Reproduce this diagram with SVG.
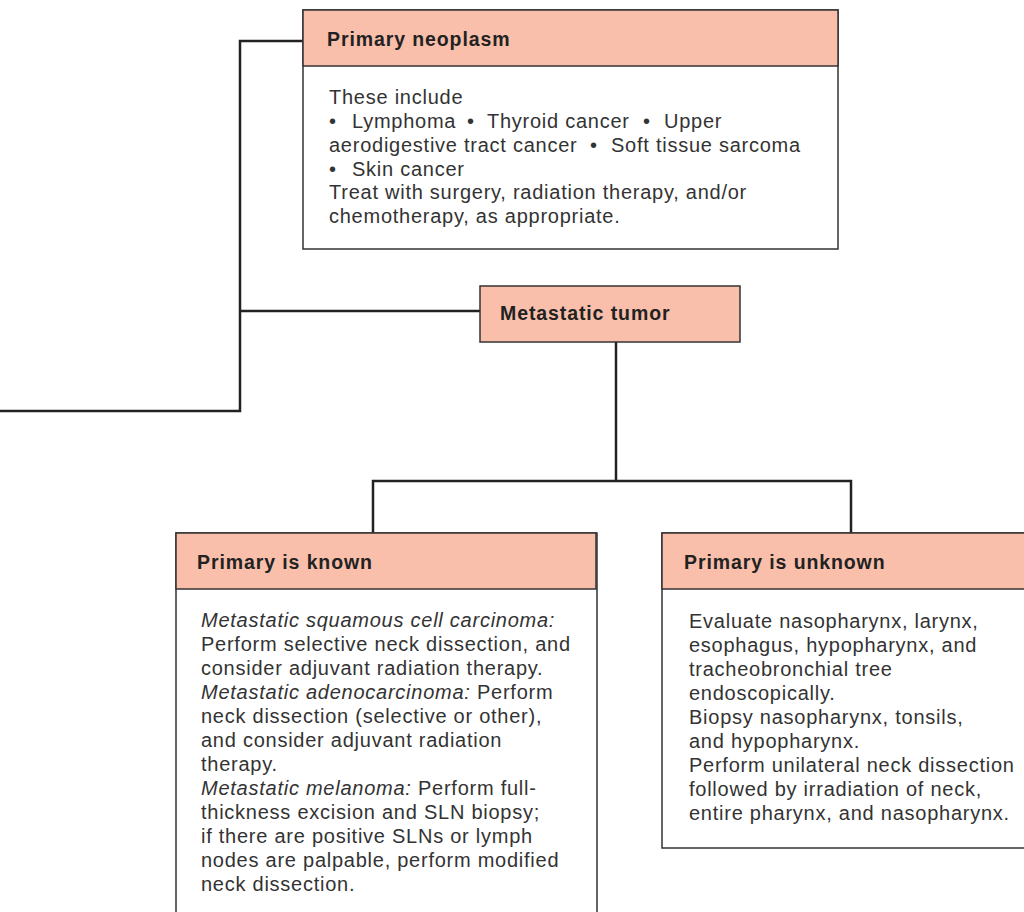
<svg xmlns="http://www.w3.org/2000/svg" width="1024" height="912" viewBox="0 0 1024 912">
  <style>
    .hdr { fill: #f9bfab; stroke: #333; stroke-width: 1.5; }
    .body { fill: #fff; stroke: #333; stroke-width: 1.5; }
    .title { font-family: "Liberation Sans", Arial, sans-serif; font-weight: bold; font-size: 19.5px; letter-spacing: 0.9px; fill: #222; }
    .txt { font-family: "Liberation Sans", Arial, sans-serif; font-size: 20px; letter-spacing: 0.75px; fill: #333; }
    .it { font-style: italic; }
    .wire { fill: none; stroke: #222; stroke-width: 2.5; }
  </style>
  <rect width="1024" height="912" fill="#fff"/>

  <!-- connectors -->
  <g id="connectors">
    <polyline class="wire" points="0,411 240,411 240,41 303,41"/>
    <line class="wire" x1="240" y1="311" x2="480" y2="311"/>
    <line class="wire" x1="616" y1="342" x2="616" y2="481"/>
    <polyline class="wire" points="373,533 373,481 851,481 851,533"/>
  </g>

  <!-- primary neoplasm -->
  <g id="primary-neoplasm">
    <rect class="body" x="303" y="10" width="535" height="239"/>
    <rect class="hdr" x="303" y="10" width="535" height="56"/>
    <text class="title" x="327" y="46">Primary neoplasm</text>
    <text class="txt">
      <tspan x="329" y="104">These include</tspan>
      <tspan x="329" y="128">•</tspan><tspan x="352" y="128">Lymphoma</tspan><tspan x="467" y="128">•</tspan><tspan x="487" y="128">Thyroid cancer</tspan><tspan x="643" y="128">•</tspan><tspan x="664" y="128">Upper</tspan>
      <tspan x="329" y="152">aerodigestive tract cancer</tspan><tspan x="590" y="152">•</tspan><tspan x="611" y="152">Soft tissue sarcoma</tspan>
      <tspan x="329" y="176">•</tspan><tspan x="352" y="176">Skin cancer</tspan>
      <tspan x="329" y="199">Treat with surgery, radiation therapy, and/or</tspan>
      <tspan x="329" y="223">chemotherapy, as appropriate.</tspan>
    </text>
  </g>

  <!-- metastatic tumor -->
  <g id="metastatic-tumor">
    <rect class="hdr" x="480" y="286" width="260" height="56"/>
    <text class="title" x="500" y="320">Metastatic tumor</text>
  </g>

  <!-- primary is known -->
  <g id="primary-known">
    <rect class="body" x="176" y="533" width="421" height="390"/>
    <rect class="hdr" x="176" y="533" width="420" height="56"/>
    <text class="title" x="197" y="569">Primary is known</text>
    <text class="txt">
      <tspan x="201" y="627" class="it">Metastatic squamous cell carcinoma:</tspan>
      <tspan x="201" y="651">Perform selective neck dissection, and</tspan>
      <tspan x="201" y="675">consider adjuvant radiation therapy.</tspan>
      <tspan x="201" y="699"><tspan class="it">Metastatic adenocarcinoma:</tspan> Perform</tspan>
      <tspan x="201" y="723">neck dissection (selective or other),</tspan>
      <tspan x="201" y="747">and consider adjuvant radiation</tspan>
      <tspan x="201" y="771">therapy.</tspan>
      <tspan x="201" y="795"><tspan class="it">Metastatic melanoma:</tspan> Perform full-</tspan>
      <tspan x="201" y="819">thickness excision and SLN biopsy;</tspan>
      <tspan x="201" y="843">if there are positive SLNs or lymph</tspan>
      <tspan x="201" y="867">nodes are palpable, perform modified</tspan>
      <tspan x="201" y="891">neck dissection.</tspan>
    </text>
  </g>

  <!-- primary is unknown -->
  <g id="primary-unknown">
    <rect class="body" x="662" y="533" width="380" height="315"/>
    <rect class="hdr" x="662" y="533" width="380" height="56"/>
    <text class="title" x="684" y="569">Primary is unknown</text>
    <text class="txt">
      <tspan x="689" y="628">Evaluate nasopharynx, larynx,</tspan>
      <tspan x="689" y="652">esophagus, hypopharynx, and</tspan>
      <tspan x="689" y="676">tracheobronchial tree</tspan>
      <tspan x="689" y="700">endoscopically.</tspan>
      <tspan x="689" y="724">Biopsy nasopharynx, tonsils,</tspan>
      <tspan x="689" y="748">and hypopharynx.</tspan>
      <tspan x="689" y="772">Perform unilateral neck dissection</tspan>
      <tspan x="689" y="796">followed by irradiation of neck,</tspan>
      <tspan x="689" y="820">entire pharynx, and nasopharynx.</tspan>
    </text>
  </g>
</svg>
